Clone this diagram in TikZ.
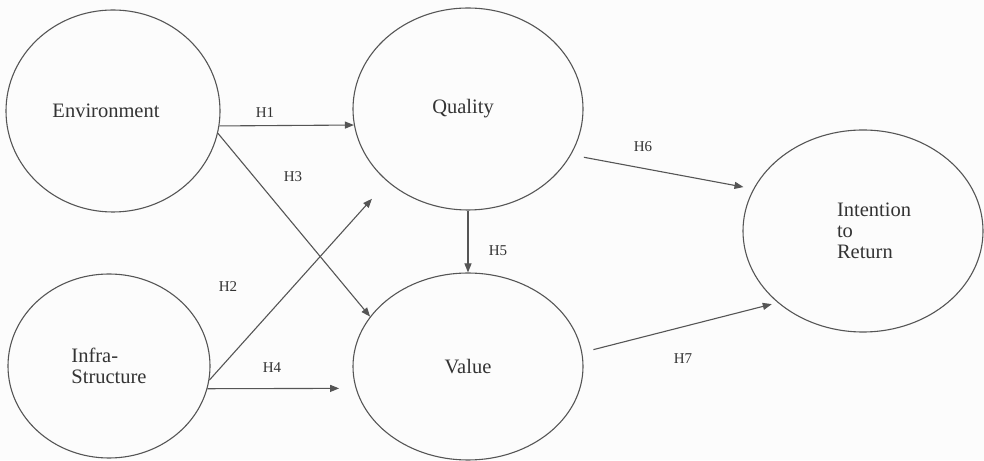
\documentclass[tikz,border=0pt]{standalone}
\usepackage{fontspec}
\setmainfont{Liberation Serif}
\newfontfamily\diagramfont{Liberation Serif}
\usetikzlibrary{shapes.geometric,arrows.meta}

\definecolor{inkline}{HTML}{555555}
\definecolor{inktext}{HTML}{333333}
\definecolor{paper}{HTML}{FCFCFC}

\tikzset{
  construct/.style={ellipse, draw=inkline, line width=1.1pt, inner sep=0pt,
    text=inktext, font=\diagramfont\fontsize{20.5}{21}\selectfont, align=left},
  path/.style={draw=inkline, line width=1.1pt,
    -{Triangle[length=9pt,width=7pt]}},
  hyp/.style={text=inktext, font=\diagramfont\fontsize{15}{16}\selectfont, inner sep=0pt}
}

\begin{document}
\begin{tikzpicture}[x=1pt,y=1pt]
  \fill[paper] (0,0) rectangle (984,460);
  \useasboundingbox (0,0) rectangle (984,460);

  % latent constructs
  \node[construct, minimum width=214pt, minimum height=202pt] (env)   at (113,349) {\hspace*{-14pt}Environment};
  \node[construct, minimum width=230pt, minimum height=202pt] (qual)  at (468,351) {\hspace*{-10pt}Quality};
  \node[construct, minimum width=202pt, minimum height=184pt] (infra) at (109,94)  {Infra-\\Structure};
  \node[construct, minimum width=230pt, minimum height=187pt] (val)   at (468,93.5) {Value};
  \node[construct, minimum width=240pt, minimum height=202pt] (intent) at (863,229) {\hspace*{22pt}Intention\\\hspace*{22pt}to\\\hspace*{22pt}Return};

  % hypothesised paths
  \draw[path] (env.-8.1) -- (qual.188.4);
  \draw[path] (env.-12.9) -- (val.153.4);
  \draw[path, shorten >=23pt] (infra.-8.7) -- (qual.222.8);
  \draw[path, shorten >=16.5pt] (infra.-13.1) -- (val.191.7);
  \draw[path] (qual.south) -- (val.north);
  \draw[path, shorten <=13pt, shorten >=10pt] (qual.-24.1) -- (intent.159.3);
  \draw[path, shorten <=11.5pt, shorten >=6pt] (val.7.3) -- (intent.220.5);

  % hypothesis labels
  \node[hyp] (h1) at (265,347) {H1};
  \node[hyp] (h3) at (293,283) {H3};
  \node[hyp] (h2) at (228,173) {H2};
  \node[hyp] (h4) at (272,92)  {H4};
  \node[hyp] (h5) at (498,209) {H5};
  \node[hyp] (h6) at (643,313) {H6};
  \node[hyp] (h7) at (683,101) {H7};
\end{tikzpicture}
\end{document}
